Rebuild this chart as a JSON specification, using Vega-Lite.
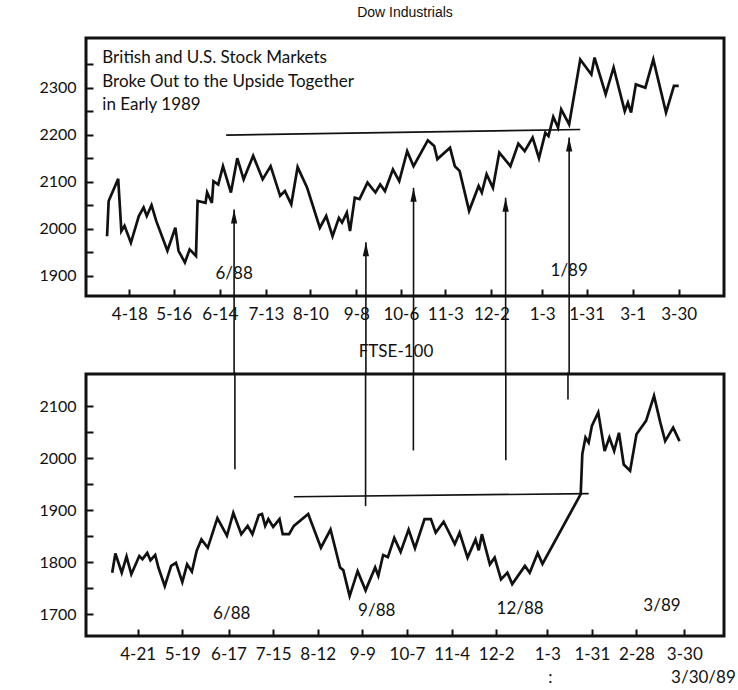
{
  "$schema": "https://vega.github.io/schema/vega-lite/v6.json",
  "background": "white",
  "padding": {"left": 37, "top": 4, "right": 0, "bottom": 0},
  "bounds": "flush",
  "spacing": 78,
  "datasets": {
    "dow": [
      {"date":"1988-04-04","value":1984},{"date":"1988-04-05","value":2059},{"date":"1988-04-11","value":2106},
      {"date":"1988-04-13","value":1995},{"date":"1988-04-15","value":2006},{"date":"1988-04-19","value":1970},
      {"date":"1988-04-24","value":2027},{"date":"1988-04-27","value":2045},{"date":"1988-04-29","value":2027},
      {"date":"1988-05-02","value":2050},{"date":"1988-05-05","value":2016},{"date":"1988-05-12","value":1953},
      {"date":"1988-05-17","value":2002},{"date":"1988-05-19","value":1953},{"date":"1988-05-23","value":1928},
      {"date":"1988-05-26","value":1956},{"date":"1988-05-30","value":1942},{"date":"1988-05-31","value":2059},
      {"date":"1988-06-05","value":2055},{"date":"1988-06-06","value":2077},{"date":"1988-06-09","value":2055},
      {"date":"1988-06-10","value":2101},{"date":"1988-06-13","value":2094},{"date":"1988-06-16","value":2133},
      {"date":"1988-06-21","value":2077},{"date":"1988-06-25","value":2150},{"date":"1988-06-29","value":2105},
      {"date":"1988-07-05","value":2155},{"date":"1988-07-11","value":2105},{"date":"1988-07-16","value":2133},
      {"date":"1988-07-22","value":2070},{"date":"1988-07-25","value":2080},{"date":"1988-07-29","value":2052},
      {"date":"1988-08-02","value":2131},{"date":"1988-08-08","value":2087},{"date":"1988-08-16","value":2002},
      {"date":"1988-08-20","value":2027},{"date":"1988-08-24","value":1984},{"date":"1988-08-28","value":2023},
      {"date":"1988-08-30","value":2013},{"date":"1988-09-02","value":2034},{"date":"1988-09-04","value":1995},
      {"date":"1988-09-07","value":2066},{"date":"1988-09-10","value":2063},{"date":"1988-09-15","value":2098},
      {"date":"1988-09-20","value":2077},{"date":"1988-09-23","value":2094},{"date":"1988-09-26","value":2080},
      {"date":"1988-10-01","value":2126},{"date":"1988-10-05","value":2101},{"date":"1988-10-10","value":2165},
      {"date":"1988-10-14","value":2133},{"date":"1988-10-23","value":2188},{"date":"1988-10-27","value":2176},
      {"date":"1988-10-29","value":2148},{"date":"1988-11-06","value":2172},{"date":"1988-11-09","value":2133},
      {"date":"1988-11-12","value":2123},{"date":"1988-11-18","value":2038},{"date":"1988-11-24","value":2091},
      {"date":"1988-11-26","value":2077},{"date":"1988-11-29","value":2116},{"date":"1988-12-03","value":2087},
      {"date":"1988-12-07","value":2162},{"date":"1988-12-14","value":2133},{"date":"1988-12-19","value":2181},
      {"date":"1988-12-23","value":2165},{"date":"1988-12-28","value":2194},{"date":"1989-01-01","value":2150},
      {"date":"1989-01-05","value":2204},{"date":"1989-01-07","value":2197},{"date":"1989-01-10","value":2238},
      {"date":"1989-01-13","value":2215},{"date":"1989-01-15","value":2254},{"date":"1989-01-20","value":2222},
      {"date":"1989-01-27","value":2360},{"date":"1989-02-03","value":2328},{"date":"1989-02-05","value":2364},
      {"date":"1989-02-12","value":2286},{"date":"1989-02-17","value":2343},{"date":"1989-02-24","value":2250},
      {"date":"1989-02-26","value":2268},{"date":"1989-02-28","value":2247},{"date":"1989-03-03","value":2307},
      {"date":"1989-03-09","value":2300},{"date":"1989-03-14","value":2360},{"date":"1989-03-22","value":2247},
      {"date":"1989-03-27","value":2304},{"date":"1989-03-30","value":2304}
    ],
    "ftse": [
      {"date":"1988-04-05","value":1780},{"date":"1988-04-07","value":1817},{"date":"1988-04-11","value":1780},
      {"date":"1988-04-14","value":1811},{"date":"1988-04-17","value":1777},{"date":"1988-04-22","value":1812},
      {"date":"1988-04-24","value":1806},{"date":"1988-04-27","value":1818},{"date":"1988-04-29","value":1804},
      {"date":"1988-05-02","value":1814},{"date":"1988-05-04","value":1790},{"date":"1988-05-08","value":1754},
      {"date":"1988-05-12","value":1793},{"date":"1988-05-15","value":1799},{"date":"1988-05-19","value":1762},
      {"date":"1988-05-22","value":1796},{"date":"1988-05-25","value":1782},{"date":"1988-05-28","value":1822},
      {"date":"1988-05-31","value":1844},{"date":"1988-06-04","value":1828},{"date":"1988-06-10","value":1885},
      {"date":"1988-06-16","value":1851},{"date":"1988-06-20","value":1895},{"date":"1988-06-25","value":1854},
      {"date":"1988-06-29","value":1870},{"date":"1988-07-02","value":1854},{"date":"1988-07-06","value":1891},
      {"date":"1988-07-08","value":1893},{"date":"1988-07-10","value":1870},{"date":"1988-07-12","value":1883},
      {"date":"1988-07-15","value":1868},{"date":"1988-07-19","value":1883},{"date":"1988-07-21","value":1854},
      {"date":"1988-07-25","value":1854},{"date":"1988-07-28","value":1870},{"date":"1988-08-06","value":1893},
      {"date":"1988-08-14","value":1828},{"date":"1988-08-20","value":1863},{"date":"1988-08-26","value":1790},
      {"date":"1988-08-28","value":1785},{"date":"1988-09-01","value":1735},{"date":"1988-09-06","value":1783},
      {"date":"1988-09-11","value":1746},{"date":"1988-09-17","value":1790},{"date":"1988-09-19","value":1774},
      {"date":"1988-09-22","value":1814},{"date":"1988-09-25","value":1810},{"date":"1988-09-29","value":1847},
      {"date":"1988-10-03","value":1820},{"date":"1988-10-08","value":1863},{"date":"1988-10-12","value":1827},
      {"date":"1988-10-18","value":1883},{"date":"1988-10-22","value":1883},{"date":"1988-10-25","value":1857},
      {"date":"1988-10-30","value":1878},{"date":"1988-11-06","value":1835},{"date":"1988-11-09","value":1857},
      {"date":"1988-11-14","value":1809},{"date":"1988-11-19","value":1844},{"date":"1988-11-21","value":1823},
      {"date":"1988-11-23","value":1854},{"date":"1988-11-28","value":1796},{"date":"1988-12-01","value":1809},
      {"date":"1988-12-05","value":1767},{"date":"1988-12-09","value":1780},{"date":"1988-12-12","value":1758},
      {"date":"1988-12-20","value":1793},{"date":"1988-12-23","value":1780},{"date":"1988-12-28","value":1818},
      {"date":"1988-12-31","value":1797},{"date":"1989-01-24","value":1931},{"date":"1989-01-25","value":2008},
      {"date":"1989-01-27","value":2040},{"date":"1989-01-29","value":2030},{"date":"1989-01-31","value":2062},
      {"date":"1989-02-04","value":2088},{"date":"1989-02-08","value":2014},{"date":"1989-02-11","value":2040},
      {"date":"1989-02-14","value":2014},{"date":"1989-02-17","value":2049},{"date":"1989-02-20","value":1988},
      {"date":"1989-02-24","value":1976},{"date":"1989-02-28","value":2046},{"date":"1989-03-06","value":2072},
      {"date":"1989-03-11","value":2120},{"date":"1989-03-15","value":2068},{"date":"1989-03-18","value":2033},
      {"date":"1989-03-23","value":2059},{"date":"1989-03-27","value":2033}
    ],
    "dowArrows": [
      {"date":"1988-06-23","value":2041,"base":1690},
      {"date":"1988-09-14","value":1971,"base":1690},
      {"date":"1988-10-14","value":2087,"base":1690},
      {"date":"1988-12-11","value":2066,"base":1690},
      {"date":"1989-01-20","value":2194,"base":1690}
    ],
    "dowLevel": [{"date":"1988-06-18","value":2199,"date2":"1989-01-27","value2":2211}],
    "dowNotes": [
      {"date":"1988-06-23","value":1903,"label":"6/88"},
      {"date":"1989-01-20","value":1911,"label":"1/89"}
    ],
    "dowHeadline": [
      {"date":"1988-04-01","value":2363,"label":"British and U.S. Stock Markets"},
      {"date":"1988-04-01","value":2313,"label":"Broke Out to the Upside Together"},
      {"date":"1988-04-01","value":2264,"label":"in Early 1989"}
    ],
    "ftseLines": [
      {"date":"1988-06-21","value":1979,"base":2165},
      {"date":"1988-09-11","value":1908,"base":2165},
      {"date":"1988-10-11","value":2015,"base":2165},
      {"date":"1988-12-08","value":1996,"base":2165},
      {"date":"1989-01-16","value":2113,"base":2165}
    ],
    "ftseLevel": [{"date":"1988-07-28","value":1926,"date2":"1989-01-29","value2":1932}],
    "ftseNotes": [
      {"date":"1988-06-19","value":1701,"label":"6/88"},
      {"date":"1988-09-18","value":1706,"label":"9/88"},
      {"date":"1988-12-17","value":1711,"label":"12/88"},
      {"date":"1989-03-16","value":1716,"label":"3/89"},
      {"date":"1989-04-11","value":1578,"label":"3/30/89"},
      {"date":"1989-01-05","value":1578,"label":":"}
    ]
  },
  "vconcat": [
    {
      "width": 638,
      "height": 258,
      "title": {"text": "Dow Industrials", "offset": 18},
      "encoding": {
        "x": {
          "field": "date", "type": "temporal",
          "scale": {"type": "utc", "domain": [
            {"year":1988,"month":3,"date":21,"hours":17,"minutes":30,"utc":true},
            {"year":1989,"month":4,"date":27,"hours":12,"minutes":30,"utc":true}]},
          "axis": {"title": null, "format": "%-m-%-d", "values": [
            {"year":1988,"month":4,"date":18,"utc":true},{"year":1988,"month":5,"date":16,"utc":true},
            {"year":1988,"month":6,"date":14,"utc":true},{"year":1988,"month":7,"date":13,"utc":true},
            {"year":1988,"month":8,"date":10,"utc":true},{"year":1988,"month":9,"date":8,"utc":true},
            {"year":1988,"month":10,"date":6,"utc":true},{"year":1988,"month":11,"date":3,"utc":true},
            {"year":1988,"month":12,"date":2,"utc":true},{"year":1989,"month":1,"date":3,"utc":true},
            {"year":1989,"month":1,"date":31,"utc":true},{"year":1989,"month":3,"date":1,"utc":true},
            {"year":1989,"month":3,"date":30,"utc":true}]}
        },
        "y": {
          "field": "value", "type": "quantitative",
          "scale": {"domain": [1856.8, 2405.7], "nice": false, "zero": false},
          "axis": {"title": null, "values": [1900,1950,2000,2050,2100,2150,2200,2250,2300,2350],
                   "labelExpr": "datum.value % 100 === 0 ? datum.label : ''", "format": "d"}
        }
      },
      "layer": [
        {"data": {"name": "dow"}, "mark": {"type": "line", "color": "#111", "strokeWidth": 2.7, "clip": false}},
        {"data": {"name": "dowLevel"}, "mark": {"type": "rule", "color": "#111", "strokeWidth": 1.7, "clip": false},
         "encoding": {"x2": {"field": "date2"}, "y2": {"field": "value2"}}},
        {"data": {"name": "dowArrows"}, "mark": {"type": "rule", "color": "#111", "strokeWidth": 1.6, "clip": false},
         "encoding": {"y2": {"field": "base"}}},
        {"data": {"name": "dowArrows"}, "mark": {"type": "point", "shape": "M0,0L0.45,2L-0.45,2Z", "filled": true, "color": "#111", "opacity": 1, "size": 196, "clip": false}},
        {"data": {"name": "dowNotes"}, "mark": {"type": "text", "font": "Lato", "fontSize": 17, "color": "#111", "align": "center", "baseline": "middle", "clip": false},
         "encoding": {"text": {"field": "label"}}},
        {"data": {"name": "dowHeadline"}, "mark": {"type": "text", "font": "Lato", "fontSize": 17, "color": "#111", "align": "left", "baseline": "middle", "clip": false},
         "encoding": {"text": {"field": "label"}}}
      ]
    },
    {
      "width": 638,
      "height": 262,
      "title": {"text": "FTSE-100", "offset": 11, "font": "Lato", "fontSize": 17, "dx": -9},
      "encoding": {
        "x": {
          "field": "date", "type": "temporal",
          "scale": {"type": "utc", "domain": [
            {"year":1988,"month":3,"date":19,"hours":13,"minutes":30,"utc":true},
            {"year":1989,"month":4,"date":23,"hours":22,"utc":true}]},
          "axis": {"title": null, "format": "%-m-%-d", "values": [
            {"year":1988,"month":4,"date":21,"utc":true},{"year":1988,"month":5,"date":19,"utc":true},
            {"year":1988,"month":6,"date":17,"utc":true},{"year":1988,"month":7,"date":15,"utc":true},
            {"year":1988,"month":8,"date":12,"utc":true},{"year":1988,"month":9,"date":9,"utc":true},
            {"year":1988,"month":10,"date":7,"utc":true},{"year":1988,"month":11,"date":4,"utc":true},
            {"year":1988,"month":12,"date":2,"utc":true},{"year":1989,"month":1,"date":3,"utc":true},
            {"year":1989,"month":1,"date":31,"utc":true},{"year":1989,"month":2,"date":28,"utc":true},
            {"year":1989,"month":3,"date":30,"utc":true}]}
        },
        "y": {
          "field": "value", "type": "quantitative",
          "scale": {"domain": [1658.3, 2162], "nice": false, "zero": false},
          "axis": {"title": null, "values": [1700,1750,1800,1850,1900,1950,2000,2050,2100],
                   "labelExpr": "datum.value % 100 === 0 ? datum.label : ''", "format": "d"}
        }
      },
      "layer": [
        {"data": {"name": "ftse"}, "mark": {"type": "line", "color": "#111", "strokeWidth": 2.7, "clip": false}},
        {"data": {"name": "ftseLevel"}, "mark": {"type": "rule", "color": "#111", "strokeWidth": 1.7, "clip": false},
         "encoding": {"x2": {"field": "date2"}, "y2": {"field": "value2"}}},
        {"data": {"name": "ftseLines"}, "mark": {"type": "rule", "color": "#111", "strokeWidth": 1.6, "clip": false},
         "encoding": {"y2": {"field": "base"}}},
        {"data": {"name": "ftseNotes"}, "mark": {"type": "text", "font": "Lato", "fontSize": 17, "color": "#111", "align": "center", "baseline": "middle", "clip": false},
         "encoding": {"text": {"field": "label"}}}
      ]
    }
  ],
  "config": {
    "font": "Lato",
    "view": {"stroke": "#111", "strokeWidth": 3},
    "axis": {"grid": false, "domain": false, "ticks": true, "tickColor": "#111", "tickWidth": 2, "tickSize": -7,
             "labelFont": "Lato", "labelFontSize": 16, "labelColor": "#111", "labelPadding": 17,
             "labelFlush": false, "labelOverlap": false},
    "axisX": {"labelFontSize": 17},
    "title": {"font": "Liberation Sans", "fontSize": 14, "fontWeight": "normal", "color": "#111", "anchor": "middle"}
  }
}
